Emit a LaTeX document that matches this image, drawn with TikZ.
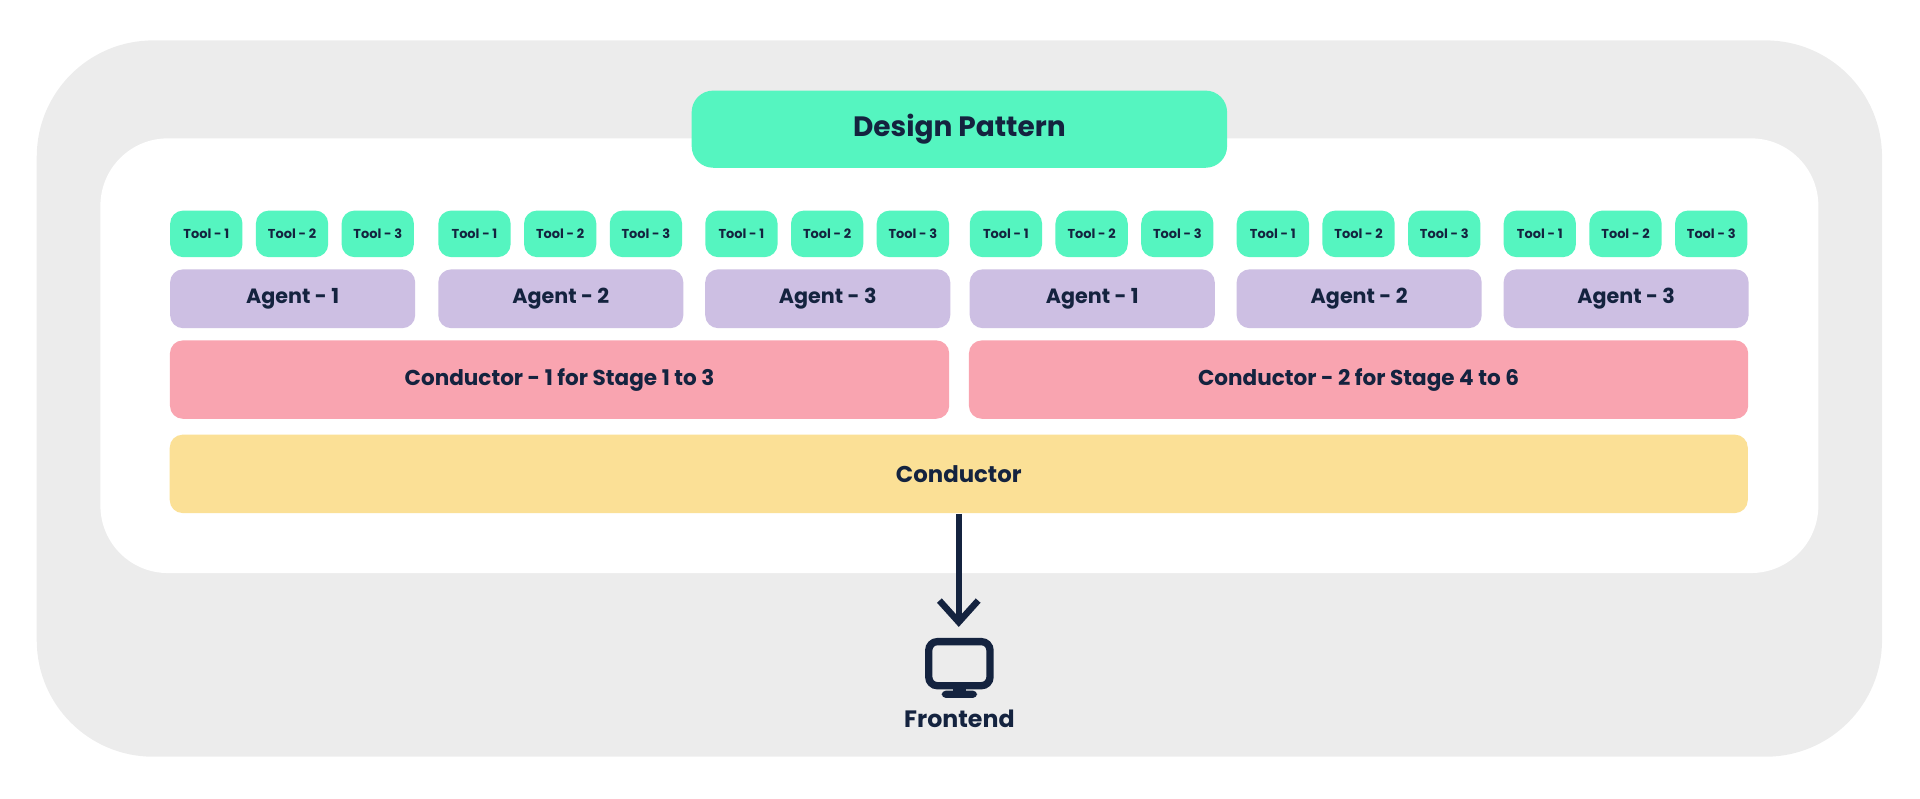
\documentclass[tikz,border=0pt]{standalone}
\usepackage{fontspec}
\setmainfont{Poppins}
\usetikzlibrary{arrows.meta, positioning}
\definecolor{navy}{HTML}{14233F}
\definecolor{mint}{HTML}{55F5C0}
\definecolor{lilac}{HTML}{CDBFE3}
\definecolor{rose}{HTML}{F9A4B0}
\definecolor{sand}{HTML}{FBE096}
\definecolor{frame}{HTML}{ECECEC}
\begin{document}
\begin{tikzpicture}[x=0.01cm, y=-0.01cm,
    box/.style={rounded corners=3pt, inner sep=0pt, text=navy, font=\bfseries},
    tool/.style={box, fill=mint, minimum width=0.59cm, minimum height=0.38cm, font=\bfseries\fontsize{3}{3}\selectfont},
    agent/.style={box, fill=lilac, minimum width=2cm, minimum height=0.48cm, font=\bfseries\fontsize{4.8}{5}\selectfont},
    cond/.style={box, fill=rose, minimum width=6.36cm, minimum height=0.64cm, font=\bfseries\fontsize{5}{6}\selectfont}]
    \useasboundingbox (0,0) rectangle (1568,652);
    \fill[frame, rounded corners=0.95cm] (30,33) rectangle (1537,618);
    \fill[white, rounded corners=0.55cm] (82,113) rectangle (1485,468);
    \node[box, fill=mint, minimum width=4.37cm, minimum height=0.63cm, rounded corners=5pt,
          font=\bfseries\fontsize{6.5}{7}\selectfont] (title) at (783.5,105.5) {Design Pattern};
    % tools and agents
    \foreach \g/\x/\n in {1/139/1, 2/358/2, 3/576/3, 4/792/1, 5/1010/2, 6/1228/3} {
        \node[agent] (agent\g) at (\x+100,244) {Agent - \n};
        \foreach \t in {1,2,3}
            \node[tool] (tool\g\t) at (\x+29.5+70*\t-70,191) {Tool - \t};
    }
    \node[cond] (cond1) at (457,310) {Conductor - 1 for Stage 1 to 3};
    \node[cond] (cond2) at (1109.5,310) {Conductor - 2 for Stage 4 to 6};
    \node[box, fill=sand, minimum width=12.88cm, minimum height=0.64cm,
          font=\bfseries\fontsize{5.3}{6}\selectfont] (main) at (783,387) {Conductor};
    % frontend
    \node[draw=navy, line width=1.7pt, rounded corners=2pt, minimum width=0.5cm,
          minimum height=0.36cm, inner sep=0pt] (screen) at (783.5,542) {};
    \fill[navy] (778,558) rectangle (789,564);
    \fill[navy, rounded corners=1pt] (769,564) rectangle (798,570);
    \node[text=navy, font=\bfseries\fontsize{5.5}{6}\selectfont] (front) at (783.5,587) {Frontend};
    \draw[navy, line width=1.5pt, -{Straight Barb[length=5pt, width=9pt]}] (main) -- (783,512);
\end{tikzpicture}
\end{document}
